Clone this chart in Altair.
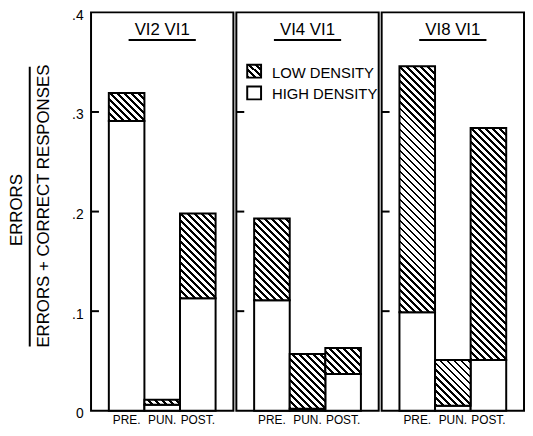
import altair as alt
import pandas as pd

PANELS = ["VI2 VI1", "VI4 VI1", "VI8 VI1"]
PHASES = ["PRE.", "PUN.", "POST."]
HIGH = [[0.291, 0.006, 0.113],
        [0.111, 0.002, 0.037],
        [0.099, 0.005, 0.051]]
LOW = [[0.028, 0.005, 0.085],
       [0.082, 0.055, 0.026],
       [0.247, 0.046, 0.233]]
Y_TICKS = [0, 0.1, 0.2, 0.3, 0.4]
INNER_TICKS = [0.1, 0.2, 0.3]
LEGEND = ["LOW DENSITY", "HIGH DENSITY"]
Y_TITLE_TOP = "ERRORS"
Y_TITLE_BOTTOM = "ERRORS + CORRECT RESPONSES"

FONT = "Liberation Sans"
W, H, YMAX = 144, 403, 0.4
BAND = W / 4.0


def hatch(w, h, period=5.0, ink=2.0):
    """45-degree '\\' stripes for a w x h px box (gradient in bbox units)."""
    h = max(h, 1.0)
    L = w + h
    n2 = w * w + h * h
    x2 = w * L / n2
    y2 = 1 - h * L / n2
    span = L / 2 ** 0.5
    stops = []
    pos = 0.0
    while pos < span:
        a = pos / span
        b = min((pos + ink) / span, 1.0)
        c = min((pos + period) / span, 1.0)
        stops += [
            {"offset": a, "color": "black"},
            {"offset": b, "color": "black"},
            {"offset": b, "color": "white"},
            {"offset": c, "color": "white"},
        ]
        pos += period
    return {"gradient": "linear", "x1": 0, "y1": 1, "x2": x2, "y2": y2, "stops": stops}


def panel(i):
    df = pd.DataFrame({"phase": PHASES, "high": HIGH[i], "low": LOW[i]})
    base = alt.Chart(df).transform_calculate(total="datum.high + datum.low")
    if i == 0:
        yaxis = alt.Axis(title=None, values=Y_TICKS, ticks=False, domain=False, grid=False,
                         labelExpr="datum.value == 0 ? '0' : replace(format(datum.value, '.1f'), '0.', '.')",
                         labelFont=FONT, labelFontSize=14, labelColor="black", labelPadding=8,
                         labelOffset=3)
    else:
        yaxis = None
    yscale = alt.Scale(domain=[0, YMAX], nice=False, zero=True)
    xenc = alt.X("phase:N", sort=PHASES,
                 scale=alt.Scale(domain=PHASES, paddingInner=0, paddingOuter=0.5),
                 axis=alt.Axis(title=None, labelAngle=0, ticks=False, domain=False,
                               labelFont=FONT, labelFontSize=12, labelColor="black",
                               labelPadding=4))
    layers = []
    layers.append(base.mark_bar(fill="white", stroke="black", strokeWidth=2).encode(
        x=xenc, y=alt.Y("high:Q", scale=yscale, axis=yaxis)))
    for j in range(3):
        hpx = LOW[i][j] * H / YMAX
        layers.append(
            base.transform_filter(alt.datum.phase == PHASES[j])
            .mark_bar(fill=hatch(BAND, hpx), stroke="black", strokeWidth=2)
            .encode(x=xenc, y=alt.Y("high:Q", scale=yscale, axis=yaxis), y2="total:Q"))
    # inward ticks
    tdf = pd.DataFrame({"v": INNER_TICKS})
    layers.append(alt.Chart(tdf).mark_rule(stroke="black", strokeWidth=2).encode(
        y=alt.Y("v:Q", scale=yscale, axis=yaxis), x=alt.value(0), x2=alt.value(8)))
    # panel title with underline
    ttl = alt.Chart(pd.DataFrame({"t": [PANELS[i]]}))
    layers.append(ttl.mark_text(font=FONT, fontSize=17, color="black", baseline="middle",
                                align="center").encode(
        text="t:N", x=alt.value(W / 2), y=alt.value(18)))
    layers.append(ttl.mark_rule(stroke="black", strokeWidth=2).encode(
        x=alt.value(W / 2 - 34), x2=alt.value(W / 2 + 34), y=alt.value(28)))
    if i == 1:
        ldf = pd.DataFrame({"label": LEGEND})
        lg = alt.Chart(ldf)
        layers.append(lg.transform_filter(alt.datum.label == LEGEND[0]).mark_rect(
            fill=hatch(14, 14, 5.0, 2.2), stroke="black", strokeWidth=2).encode(
            x=alt.value(11), x2=alt.value(25), y=alt.value(53), y2=alt.value(66)))
        layers.append(lg.transform_filter(alt.datum.label == LEGEND[1]).mark_rect(
            fill="white", stroke="black", strokeWidth=2).encode(
            x=alt.value(11), x2=alt.value(25), y=alt.value(75), y2=alt.value(88)))
        layers.append(lg.transform_filter(alt.datum.label == LEGEND[0]).mark_text(
            font=FONT, fontSize=15, color="black", align="left", baseline="middle").encode(
            text="label:N", x=alt.value(36), y=alt.value(61)))
        layers.append(lg.transform_filter(alt.datum.label == LEGEND[1]).mark_text(
            font=FONT, fontSize=15, color="black", align="left", baseline="middle").encode(
            text="label:N", x=alt.value(36), y=alt.value(83)))
    if i == 0:
        ydf = alt.Chart(pd.DataFrame({"a": [Y_TITLE_TOP], "b": [Y_TITLE_BOTTOM]}))
        layers.append(ydf.mark_text(font=FONT, fontSize=17, color="black", angle=270,
                                    align="center", baseline="middle").encode(
            text="a:N", x=alt.value(-75), y=alt.value(200)))
        layers.append(ydf.mark_rule(stroke="black", strokeWidth=2).encode(
            x=alt.value(-62), y=alt.value(55), y2=alt.value(338)))
        layers.append(ydf.mark_text(font=FONT, fontSize=17, color="black", angle=270,
                                    align="center", baseline="middle").encode(
            text="b:N", x=alt.value(-48), y=alt.value(196)))
    return alt.layer(*layers).properties(width=W, height=H)


chart = alt.hconcat(*[panel(i) for i in range(3)], spacing=0).properties(
    padding={"top": -3, "left": -1, "right": 0, "bottom": -1},
    background="white",
).configure_view(stroke="black", strokeWidth=2)

chart.save("out.html", embed_options={"renderer": "svg", "actions": False})
